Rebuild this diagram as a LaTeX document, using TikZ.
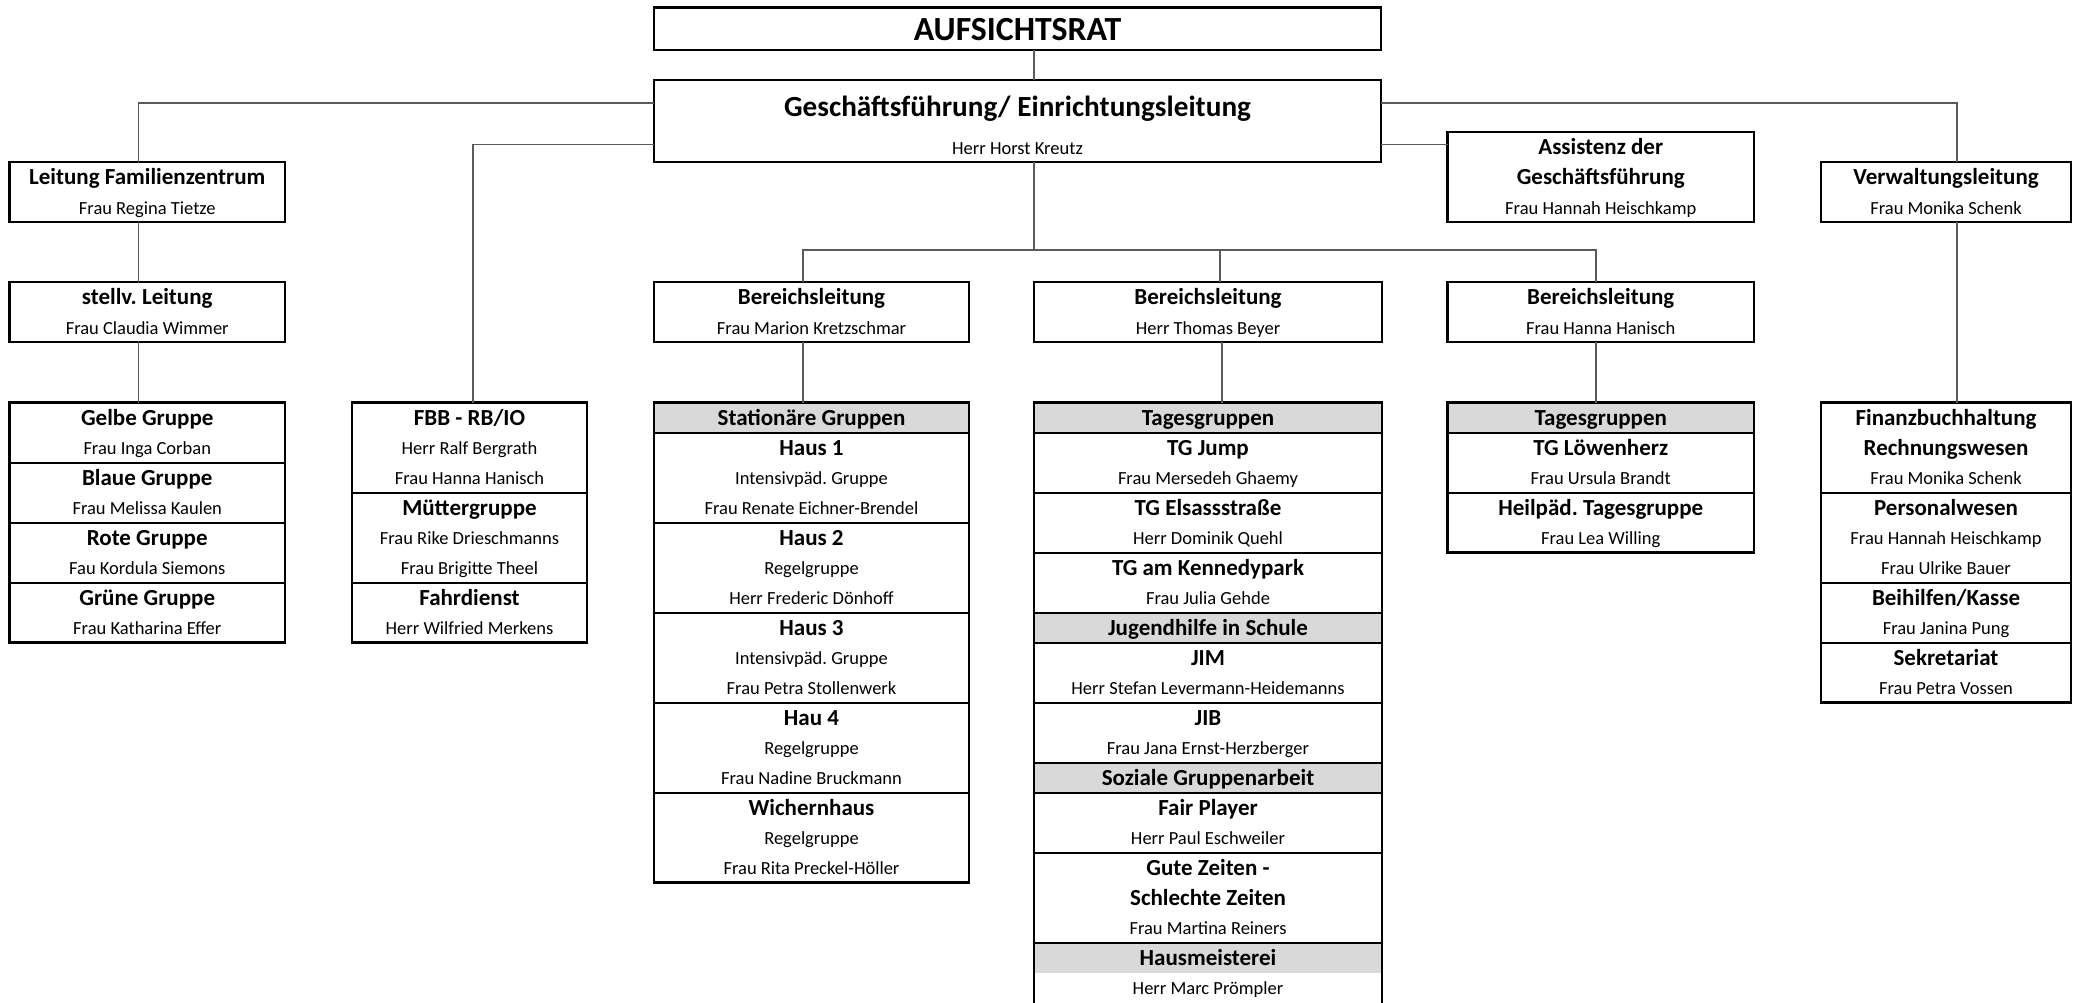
\documentclass[tikz,border=0pt]{standalone}
\usepackage{fontspec}
\setmainfont{Carlito}
\frenchspacing
\definecolor{hdrgray}{HTML}{D9D9D9}
\definecolor{conncol}{HTML}{5A5A5A}
\tikzset{
  box/.style={rectangle, draw=black, line width=2.1pt, inner sep=0pt, outer sep=0pt},
  hdr/.style={rectangle, fill=hdrgray, draw=none, inner sep=0pt, outer sep=0pt},
  conn/.style={draw=conncol, line width=1.3pt},
  sepl/.style={draw=black, line width=2pt},
  ttlf/.style={font=\bfseries\fontsize{23}{23}\selectfont, anchor=base, inner sep=0pt},
  prsf/.style={font=\fontsize{18.5}{18.5}\selectfont, anchor=base, inner sep=0pt},
}
% box: name, x1, y1, x2, y2
\newcommand{\mybox}[5]{\node[box, minimum width={#4-#2}, minimum height={#5-#3}] (#1) at ({(#2+#4)/2},{(#3+#5)/2}) {};}
% bottom column box: name, x1, x2, rows
\newcommand{\colbox}[4]{\node[box, minimum width={#3-#2}, minimum height={30*#4}] (#1) at ({(#2+#3)/2},{402.5+15*#4}) {};}
% header row: name, x1, x2, row
\newcommand{\hdrrow}[4]{\node[hdr, minimum width={#3-#2}, minimum height=30] (#1) at ({(#2+#3)/2},{417.5+30*#4}) {};}
% separator: box name, row
\newcommand{\sepline}[2]{\draw[sepl] (#1.west |- 0,{402.5+30*#2}) -- (#1.east |- 0,{402.5+30*#2});}
% text lines in bottom area: name, x, row, text
\newcommand{\rowT}[4]{\node[ttlf] (#1) at (#2,{425.4+30*#3}) {#4};}
\newcommand{\rowP}[4]{\node[prsf] (#1) at (#2,{424.8+30*#3}) {#4};}
\begin{document}
\begin{tikzpicture}[x=1pt,y=-1pt]
\fill[white] (0,0) rectangle (2076,1002);
\useasboundingbox (0,0) rectangle (2076,1002);

% ---------- header fills ----------
\hdrrow{hC0}{654}{969}{0}
\hdrrow{hD0}{1034}{1382}{0}
\hdrrow{hD7}{1034}{1382}{7}
\hdrrow{hD12}{1034}{1382}{12}
\hdrrow{hD18}{1034}{1382}{18}
\hdrrow{hE0}{1447.5}{1754}{0}

% ---------- top boxes ----------
\mybox{aufs}{654}{7.5}{1381}{50}
\mybox{gf}{654}{80}{1381}{161.7}
\mybox{lf}{9.5}{161.7}{285}{221.7}
\mybox{stv}{9.5}{281.7}{285}{341.7}
\mybox{as}{1447.5}{131.7}{1754}{221.7}
\mybox{vl}{1821}{161.7}{2071}{221.7}
\mybox{blA}{654}{281.7}{969}{341.7}
\mybox{blB}{1034}{281.7}{1382}{341.7}
\mybox{blC}{1447.5}{281.7}{1754}{341.7}

% ---------- bottom column boxes ----------
\colbox{colA}{9.5}{285}{8}
\colbox{colB}{352}{587}{8}
\colbox{colC}{654}{969}{16}
\node[box, minimum width={1382-1034}, minimum height=602] (colD) at (1208,703.5) {};
\colbox{colE}{1447.5}{1754}{5}
\colbox{colF}{1821}{2071}{10}

% separators
\sepline{colA}{2}\sepline{colA}{4}\sepline{colA}{6}
\sepline{colB}{3}\sepline{colB}{6}
\sepline{colC}{1}\sepline{colC}{4}\sepline{colC}{7}\sepline{colC}{10}\sepline{colC}{13}
\sepline{colD}{1}\sepline{colD}{3}\sepline{colD}{5}\sepline{colD}{7}\sepline{colD}{8}
\sepline{colD}{10}\sepline{colD}{12}\sepline{colD}{13}\sepline{colD}{15}\sepline{colD}{18}
\sepline{colE}{1}\sepline{colE}{3}
\sepline{colF}{3}\sepline{colF}{6}\sepline{colF}{8}

% ---------- connectors ----------
\coordinate (bus) at (1034,250);
\draw[conn] (aufs.south -| 1034,0) -- (gf.north -| 1034,0);
\draw[conn] (gf.west |- 0,103) -| (lf.north -| 138.5,0);
\draw[conn] (gf.west |- 0,144.5) -| (colB.north -| 473,0);
\draw[conn] (gf.east |- 0,103) -| (vl.north -| 1957,0);
\draw[conn] (gf.east |- 0,144.5) -- (as.west |- 0,144.5);
\draw[conn] (gf.south -| bus) -- (bus);
\draw[conn] (bus) -| (blA.north -| 803,0);
\draw[conn] (bus) -| (blB.north -| 1220,0);
\draw[conn] (bus) -| (blC.north -| 1596,0);
\draw[conn] (lf.south -| 138.5,0) -- (stv.north -| 138.5,0);
\draw[conn] (stv.south -| 138.5,0) -- (colA.north -| 138.5,0);
\draw[conn] (blA.south -| 803,0) -- (colC.north -| 803,0);
\draw[conn] (blB.south -| 1222,0) -- (colD.north -| 1222,0);
\draw[conn] (blC.south -| 1596,0) -- (colE.north -| 1596,0);
\draw[conn] (vl.south -| 1957,0) -- (colF.north -| 1957,0);

% ---------- top texts ----------
\node[font=\bfseries\fontsize{33.8}{33.8}\selectfont, anchor=base, inner sep=0pt] (taufs) at (1017.5,40.5) {AUFSICHTSRAT};
\node[font=\bfseries\fontsize{29.2}{29.2}\selectfont, anchor=base, inner sep=0pt] (tgf) at (1017.5,116) {Geschäftsführung/ Einrichtungsleitung};
\node[prsf] (pgf) at (1017.5,154) {Herr Horst Kreutz};
\node[ttlf] (tlf) at (147.25,184.6) {Leitung Familienzentrum};
\node[prsf] (plf) at (147.25,214) {Frau Regina Tietze};
\node[ttlf] (tstv) at (147.25,304.6) {stellv. Leitung};
\node[prsf] (pstv) at (147.25,334) {Frau Claudia Wimmer};
\node[ttlf] (tas1) at (1600.75,154.6) {Assistenz der};
\node[ttlf] (tas2) at (1600.75,184.6) {Geschäftsführung};
\node[prsf] (pas) at (1600.75,214) {Frau Hannah Heischkamp};
\node[ttlf] (tvl) at (1946,184.6) {Verwaltungsleitung};
\node[prsf] (pvl) at (1946,214) {Frau Monika Schenk};
\node[ttlf] (tblA) at (811.5,304.6) {Bereichsleitung};
\node[prsf] (pblA) at (811.5,334) {Frau Marion Kretzschmar};
\node[ttlf] (tblB) at (1208,304.6) {Bereichsleitung};
\node[prsf] (pblB) at (1208,334) {Herr Thomas Beyer};
\node[ttlf] (tblC) at (1600.75,304.6) {Bereichsleitung};
\node[prsf] (pblC) at (1600.75,334) {Frau Hanna Hanisch};

% ---------- column A ----------
\rowT{a0}{147.25}{0}{Gelbe Gruppe}
\rowP{a1}{147.25}{1}{Frau Inga Corban}
\rowT{a2}{147.25}{2}{Blaue Gruppe}
\rowP{a3}{147.25}{3}{Frau Melissa Kaulen}
\rowT{a4}{147.25}{4}{Rote Gruppe}
\rowP{a5}{147.25}{5}{Fau Kordula Siemons}
\rowT{a6}{147.25}{6}{Grüne Gruppe}
\rowP{a7}{147.25}{7}{Frau Katharina Effer}

% ---------- column B ----------
\rowT{b0}{469.5}{0}{FBB - RB/IO}
\rowP{b1}{469.5}{1}{Herr Ralf Bergrath}
\rowP{b2}{469.5}{2}{Frau Hanna Hanisch}
\rowT{b3}{469.5}{3}{Müttergruppe}
\rowP{b4}{469.5}{4}{Frau Rike Drieschmanns}
\rowP{b5}{469.5}{5}{Frau Brigitte Theel}
\rowT{b6}{469.5}{6}{Fahrdienst}
\rowP{b7}{469.5}{7}{Herr Wilfried Merkens}

% ---------- column C ----------
\rowT{c0}{811.5}{0}{Stationäre Gruppen}
\rowT{c1}{811.5}{1}{Haus 1}
\rowP{c2}{811.5}{2}{Intensivpäd. Gruppe}
\rowP{c3}{811.5}{3}{Frau Renate Eichner-Brendel}
\rowT{c4}{811.5}{4}{Haus 2}
\rowP{c5}{811.5}{5}{Regelgruppe}
\rowP{c6}{811.5}{6}{Herr Frederic Dönhoff}
\rowT{c7}{811.5}{7}{Haus 3}
\rowP{c8}{811.5}{8}{Intensivpäd. Gruppe}
\rowP{c9}{811.5}{9}{Frau Petra Stollenwerk}
\rowT{c10}{811.5}{10}{Hau 4}
\rowP{c11}{811.5}{11}{Regelgruppe}
\rowP{c12}{811.5}{12}{Frau Nadine Bruckmann}
\rowT{c13}{811.5}{13}{Wichernhaus}
\rowP{c14}{811.5}{14}{Regelgruppe}
\rowP{c15}{811.5}{15}{Frau Rita Preckel-Höller}

% ---------- column D ----------
\rowT{d0}{1208}{0}{Tagesgruppen}
\rowT{d1}{1208}{1}{TG Jump}
\rowP{d2}{1208}{2}{Frau Mersedeh Ghaemy}
\rowT{d3}{1208}{3}{TG Elsassstraße}
\rowP{d4}{1208}{4}{Herr Dominik Quehl}
\rowT{d5}{1208}{5}{TG am Kennedypark}
\rowP{d6}{1208}{6}{Frau Julia Gehde}
\rowT{d7}{1208}{7}{Jugendhilfe in Schule}
\rowT{d8}{1208}{8}{JIM}
\rowP{d9}{1208}{9}{Herr Stefan Levermann-Heidemanns}
\rowT{d10}{1208}{10}{JIB}
\rowP{d11}{1208}{11}{Frau Jana Ernst-Herzberger}
\rowT{d12}{1208}{12}{Soziale Gruppenarbeit}
\rowT{d13}{1208}{13}{Fair Player}
\rowP{d14}{1208}{14}{Herr Paul Eschweiler}
\rowT{d15}{1208}{15}{Gute Zeiten -}
\rowT{d16}{1208}{16}{Schlechte Zeiten}
\rowP{d17}{1208}{17}{Frau Martina Reiners}
\rowT{d18}{1208}{18}{Hausmeisterei}
\rowP{d19}{1208}{19}{Herr Marc Prömpler}

% ---------- column E ----------
\rowT{e0}{1600.75}{0}{Tagesgruppen}
\rowT{e1}{1600.75}{1}{TG Löwenherz}
\rowP{e2}{1600.75}{2}{Frau Ursula Brandt}
\rowT{e3}{1600.75}{3}{Heilpäd. Tagesgruppe}
\rowP{e4}{1600.75}{4}{Frau Lea Willing}

% ---------- column F ----------
\rowT{f0}{1946}{0}{Finanzbuchhaltung}
\rowT{f1}{1946}{1}{Rechnungswesen}
\rowP{f2}{1946}{2}{Frau Monika Schenk}
\rowT{f3}{1946}{3}{Personalwesen}
\rowP{f4}{1946}{4}{Frau Hannah Heischkamp}
\rowP{f5}{1946}{5}{Frau Ulrike Bauer}
\rowT{f6}{1946}{6}{Beihilfen/Kasse}
\rowP{f7}{1946}{7}{Frau Janina Pung}
\rowT{f8}{1946}{8}{Sekretariat}
\rowP{f9}{1946}{9}{Frau Petra Vossen}
\end{tikzpicture}
\end{document}
